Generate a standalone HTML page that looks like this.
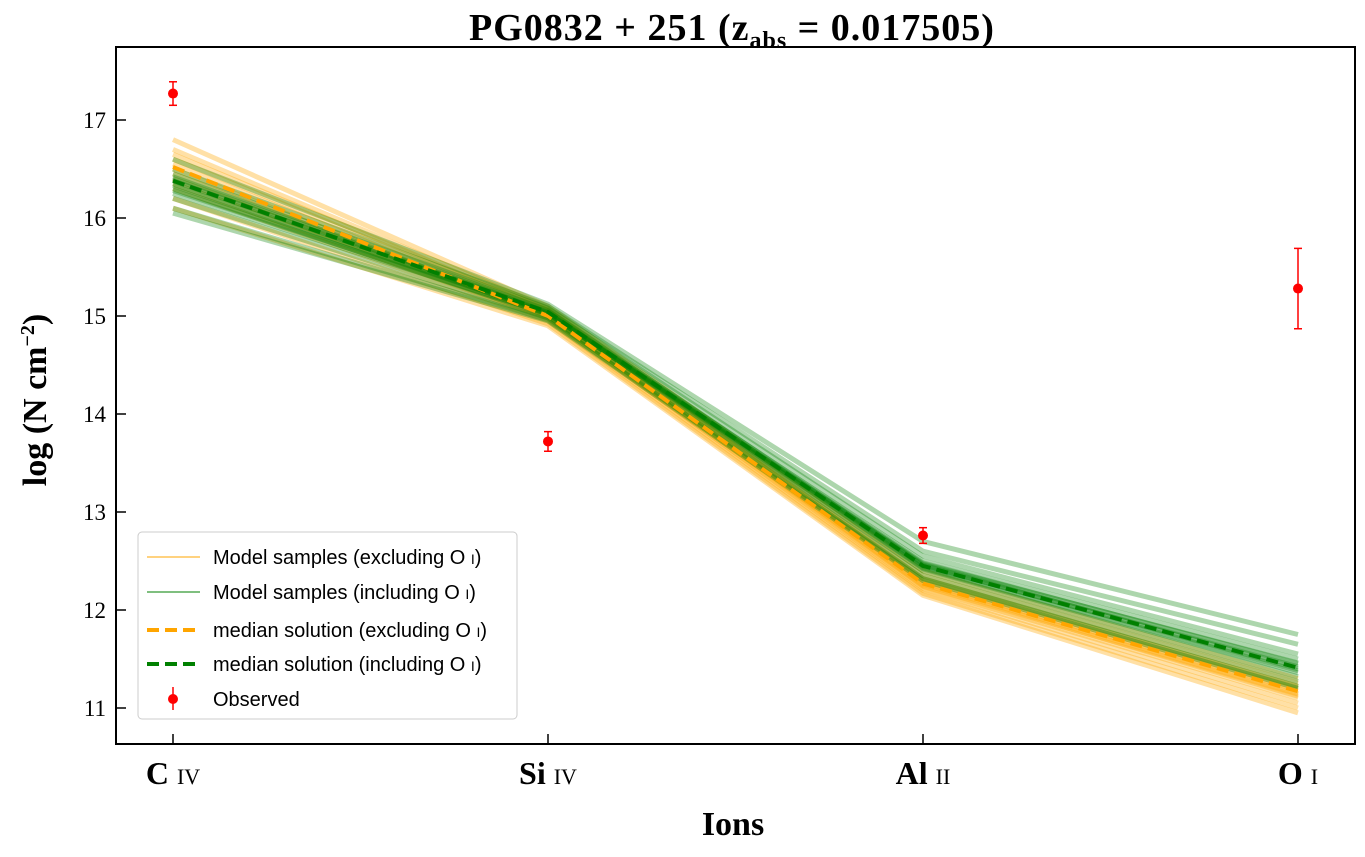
<!DOCTYPE html>
<html><head><meta charset="utf-8"><style>
body{margin:0;background:#fff;}
svg text{font-family:"Liberation Serif",serif;}
</style></head><body>
<svg id="chart" width="1365" height="852" viewBox="0 0 1365 852" xmlns="http://www.w3.org/2000/svg">
<g id="samples"></g>
<g id="medians"></g>
<g id="obs"></g>
<rect x="116" y="47" width="1239" height="697" fill="none" stroke="#000" stroke-width="2"/>
<g id="axes"></g>
<text x="732" y="40" font-size="38" font-weight="bold" text-anchor="middle" letter-spacing="1">PG0832 + 251 (z<tspan font-size="24" dy="8">abs</tspan><tspan dy="-8"> = 0.017505)</tspan></text>
<text transform="translate(46,400) rotate(-90)" font-size="34" font-weight="bold" text-anchor="middle">log (N cm<tspan font-size="20" dy="-12">−2</tspan><tspan dy="12">)</tspan></text>
<text x="733" y="835" font-size="34" font-weight="bold" text-anchor="middle">Ions</text>
<g>
<rect x="138" y="532" width="379" height="187" rx="4" fill="#fff" fill-opacity="0.85" stroke="#ccc"/>
<line x1="147" y1="557" x2="200" y2="557" stroke="orange" stroke-opacity="0.5" stroke-width="2"/>
<text x="213" y="564" font-size="20" style="font-family:'Liberation Sans',sans-serif">Model samples (excluding O <tspan font-size="14">I</tspan>)</text>
<line x1="147" y1="592" x2="200" y2="592" stroke="green" stroke-opacity="0.5" stroke-width="2"/>
<text x="213" y="599" font-size="20" style="font-family:'Liberation Sans',sans-serif">Model samples (including O <tspan font-size="14">I</tspan>)</text>
<line x1="147" y1="630" x2="200" y2="630" stroke="orange" stroke-width="4" stroke-dasharray="12 6"/>
<text x="213" y="637" font-size="20" style="font-family:'Liberation Sans',sans-serif">median solution (excluding O <tspan font-size="14">I</tspan>)</text>
<line x1="147" y1="664" x2="200" y2="664" stroke="green" stroke-width="4" stroke-dasharray="12 6"/>
<text x="213" y="671" font-size="20" style="font-family:'Liberation Sans',sans-serif">median solution (including O <tspan font-size="14">I</tspan>)</text>
<line x1="173" y1="687" x2="173" y2="710" stroke="red" stroke-width="1.5"/>
<circle cx="173" cy="699" r="5" fill="red"/>
<text x="213" y="706" font-size="20" style="font-family:'Liberation Sans',sans-serif">Observed</text>
</g>
</svg>
<script>
const ions = ["C", "Si", "Al", "O"];
const ionStages = ["IV", "IV", "II", "I"];
const yTicks = [11, 12, 13, 14, 15, 16, 17];
const obsValues = [17.27, 13.72, 12.76, 15.28];
const obsErrors = [0.12, 0.10, 0.08, 0.41];
const medianExcl = [16.52, 15.0, 12.27, 11.17];
const medianIncl = [16.38, 15.04, 12.45, 11.41];
const samplesExcl = [
 [16.8,15.1,12.4,11.3],[16.7,15.08,12.35,11.25],[16.6,15.05,12.32,11.22],[16.55,15.02,12.3,11.2],
 [16.45,15.0,12.26,11.15],[16.4,14.98,12.22,11.1],[16.3,14.95,12.2,11.05],[16.2,14.92,12.17,11.0],
 [16.1,14.9,12.15,10.95],[16.65,15.06,12.28,11.18],[16.5,15.0,12.25,11.12],[16.35,14.97,12.24,11.14]];
const samplesIncl = [
 [16.6,15.12,12.7,11.75],[16.5,15.1,12.6,11.65],[16.45,15.08,12.55,11.55],[16.4,15.05,12.48,11.45],
 [16.35,15.03,12.43,11.38],[16.3,15.0,12.4,11.32],[16.2,14.98,12.35,11.27],[16.1,14.96,12.32,11.22],
 [16.05,14.95,12.3,11.2],[16.25,15.02,12.5,11.5],[16.38,15.04,12.45,11.42],[16.42,15.06,12.46,11.4],
 [16.33,15.03,12.42,11.36],[16.28,15.02,12.47,11.46]];
const NS="http://www.w3.org/2000/svg";
const xPos = i => 173 + i * 375;
const yPos = v => 708 - (v - 11) * 98;
function mk(tag, attrs, parent){const e=document.createElementNS(NS,tag);for(const k in attrs)e.setAttribute(k,attrs[k]);parent.appendChild(e);return e;}
const pts = arr => arr.map((v,i)=>xPos(i)+","+yPos(v)).join(" ");
const sg=document.getElementById("samples");
samplesExcl.forEach(s=>{const p=mk("polyline",{points:pts(s),fill:"none",stroke:"orange","stroke-opacity":"0.35","stroke-width":"5"},sg);

});
samplesIncl.forEach(s=>{const p=mk("polyline",{points:pts(s),fill:"none",stroke:"green","stroke-opacity":"0.32","stroke-width":"5"},sg);

});
const mg=document.getElementById("medians");
const m1=mk("polyline",{points:pts(medianExcl),fill:"none",stroke:"orange","stroke-width":"4","stroke-dasharray":"12 6"},mg);


const m2=mk("polyline",{points:pts(medianIncl),fill:"none",stroke:"green","stroke-width":"4","stroke-dasharray":"12 6"},mg);


const og=document.getElementById("obs");
obsValues.forEach((v,i)=>{const g=mk("g",{},og);


const x=xPos(i),y1=yPos(v+obsErrors[i]),y2=yPos(v-obsErrors[i]);
mk("line",{x1:x,x2:x,y1:y1,y2:y2,stroke:"red","stroke-width":"1.5"},g);
mk("line",{x1:x-4,x2:x+4,y1:y1,y2:y1,stroke:"red","stroke-width":"1.5"},g);
mk("line",{x1:x-4,x2:x+4,y1:y2,y2:y2,stroke:"red","stroke-width":"1.5"},g);
mk("circle",{cx:x,cy:yPos(v),r:5,fill:"red"},g);});
const ag=document.getElementById("axes");
yTicks.forEach(t=>{const y=yPos(t);
mk("line",{x1:116,x2:126,y1:y,y2:y,stroke:"#000","stroke-width":"1.5"},ag);
const tx=mk("text",{x:106,y:y+8,"font-size":"23","text-anchor":"end"},ag);tx.textContent=t;

});
ions.forEach((n,i)=>{const x=xPos(i);
mk("line",{x1:x,x2:x,y1:744,y2:734,stroke:"#000","stroke-width":"1.5"},ag);
const tx=mk("text",{x:x,y:784,"font-size":"32","font-weight":"bold","text-anchor":"middle"},ag);


tx.textContent=n+" ";const ts=mk("tspan",{"font-size":"22","font-weight":"normal"},tx);ts.textContent=ionStages[i];});
</script>
</body></html>
